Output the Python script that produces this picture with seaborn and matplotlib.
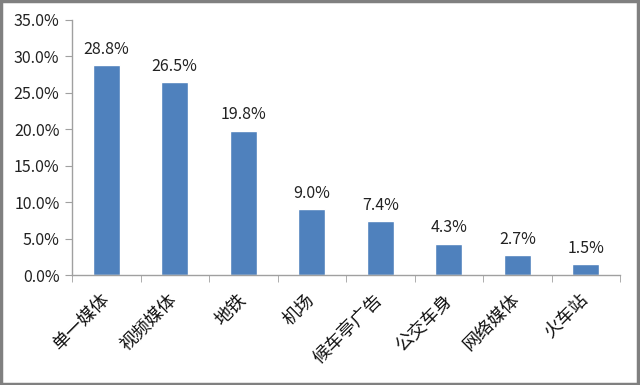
import matplotlib
matplotlib.use("Agg")
import matplotlib.pyplot as plt
import seaborn as sns
import pandas as pd
from matplotlib.ticker import FuncFormatter, MultipleLocator
from matplotlib.patches import Rectangle

categories = ["单一媒体", "视频媒体", "地铁", "机场", "候车亭广告", "公交车身", "网络媒体", "火车站"]
values = [28.8, 26.5, 19.8, 9.0, 7.4, 4.3, 2.7, 1.5]

sns.set_style("white")
plt.rcParams['font.family'] = ['Noto Sans CJK SC', 'DejaVu Sans']

df = pd.DataFrame({"cat": categories, "val": values})

fig = plt.figure(figsize=(6.4, 3.85), dpi=100)
ax = fig.add_axes([72/640, 1 - 275/385, 548/640, 255/385])
sns.barplot(data=df, x="cat", y="val", color="#4F81BD", saturation=1, width=0.4, ax=ax)

ax.set_ylim(0, 35)
ax.set_xlim(-0.5, len(categories) - 0.5)
ax.yaxis.set_major_locator(MultipleLocator(5))
ax.yaxis.set_major_formatter(FuncFormatter(lambda v, p: f"{v:.1f}%"))
ax.set_xlabel("")
ax.set_ylabel("")

for i, v in enumerate(values):
    ax.text(i, v + 1.0, f"{v:.1f}%", ha="center", va="bottom", fontsize=11.5, color="#222222")

for s in ["top", "right"]:
    ax.spines[s].set_visible(False)
for s in ["left", "bottom"]:
    ax.spines[s].set_color("#A0A0A0")
    ax.spines[s].set_linewidth(1)

ax.tick_params(axis="y", which="major", length=5, color="#A0A0A0", direction="out", left=True, labelsize=11.5, labelcolor="#222222", pad=4)
ax.set_xticks(range(len(categories)))
ax.set_xticklabels(categories, rotation=45, ha="right", va="center", rotation_mode="anchor", fontsize=13, color="#111111")
ax.tick_params(axis="x", which="major", length=0, pad=16)
ax.set_xticks([i - 0.5 for i in range(len(categories) + 1)], minor=True)
ax.tick_params(axis="x", which="minor", length=5, color="#A0A0A0", direction="out", bottom=True)

fig.patches.append(Rectangle((0.002, 0.003), 0.995, 0.994, transform=fig.transFigure,
                             fill=False, edgecolor="#808080", linewidth=2.5))

fig.savefig("out.png", dpi=100)
